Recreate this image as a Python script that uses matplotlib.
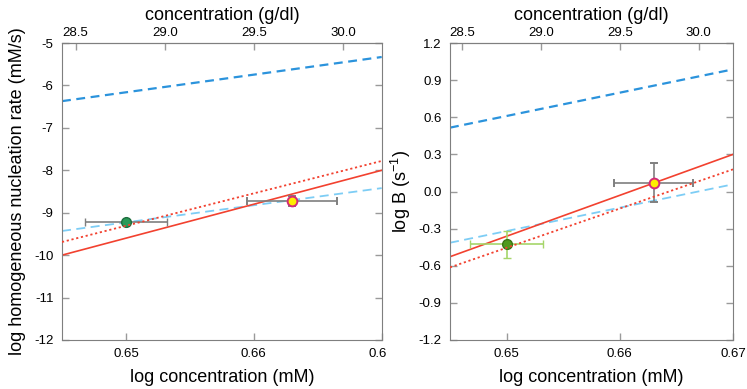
import matplotlib
matplotlib.use("Agg")
import matplotlib.pyplot as plt
from matplotlib.patches import Rectangle

plt.rcParams["font.family"] = ["Liberation Sans", "DejaVu Sans"]
plt.rcParams["axes.unicode_minus"] = False
plt.rcParams["mathtext.default"] = "regular"

# x range (log concentration, mM) shared by both panels
x_ends = [0.645, 0.67]

# left panel: log homogeneous nucleation rate
rate_dark_dash = [-6.37, -5.33]
rate_red_solid = [-10.0, -8.0]
rate_red_dot = [-9.69, -7.78]
rate_light_dash = [-9.43, -8.42]
rate_green = (0.65, -9.23, 0.0032, 0.06)      # x, y, xerr, yerr
rate_yellow = (0.6630, -8.72, 0.0035, 0.12)

# right panel: log B
b_dark_dash = [0.516, 0.987]
b_red_solid = [-0.527, 0.30]
b_red_dot = [-0.613, 0.179]
b_light_dash = [-0.414, 0.058]
b_green = (0.65, -0.427, 0.0032, 0.11)
b_yellow = (0.6630, 0.071, 0.0035, 0.158)

gdl_ticks = [28.5, 29.0, 29.5, 30.0]
b_ticks = [-1.2, -0.9, -0.6, -0.3, 0.0, 0.3, 0.6, 0.9, 1.2]


def to_log(g):
    return 0.66 + (g - 29.5) * 0.01394


def to_gdl(x):
    return 29.5 + (x - 0.66) / 0.01394


DARK_BLUE = "#2b93dc"
LIGHT_BLUE = "#7dcdf5"
RED = "#f2412f"
GRID = "#7f7f7f"


def draw_panel(ax, dark, solid, dot, light, green, yellow, green_col, green_edge, green_err):
    ax.plot(x_ends, dark, color=DARK_BLUE, ls=(0, (4, 2.5)), lw=1.6, zorder=2)
    ax.plot(x_ends, light, color=LIGHT_BLUE, ls=(0, (5, 3)), lw=1.3, zorder=2)
    ax.plot(x_ends, solid, color=RED, ls="-", lw=1.2, zorder=2)
    ax.errorbar(green[0], green[1], xerr=green[2], yerr=green[3], fmt="o", ms=7,
                mfc=green_col, mec=green_edge, mew=1, ecolor=green_err, elinewidth=1.2,
                capsize=3, zorder=3)
    ax.errorbar(yellow[0], yellow[1], xerr=yellow[2], yerr=yellow[3], fmt="o", ms=7,
                mfc="#ffee00", mec="#d42a78", mew=1.4, ecolor=GRID, elinewidth=1.2,
                capsize=3, zorder=3)
    ax.plot(x_ends, dot, color=RED, ls=(0, (1.2, 1.5)), lw=1.3, zorder=4)
    ax.set_xlim(x_ends)
    for sp in ax.spines.values():
        sp.set_color(GRID)
    ax.tick_params(direction="in", top=False, right=True, length=5, width=1,
                   color="#9a9a9a", labelsize=9.5, pad=6)
    ax.set_xlabel("log concentration (mM)", fontsize=13, labelpad=6)
    top = ax.secondary_xaxis("top", functions=(to_gdl, to_log))
    top.set_xticks(gdl_ticks)
    top.set_xticklabels([f"{t:.1f}" for t in gdl_ticks])
    top.tick_params(direction="in", length=5, width=1, color="#9a9a9a", labelsize=9.5, pad=3)
    top.spines["top"].set_color(GRID)
    top.set_xlabel("concentration (g/dl)", fontsize=13, labelpad=5)


fig = plt.figure(figsize=(7.47, 3.89), dpi=100)

ax1 = fig.add_axes([62 / 747, 49 / 389, 319.7 / 747, 297 / 389])
draw_panel(ax1, rate_dark_dash, rate_red_solid, rate_red_dot, rate_light_dash,
           rate_green, rate_yellow, "#2a9a58", "#1d6e3e", GRID)
ax1.set_ylim(-12, -5)
ax1.set_yticks(range(-12, -4))
ax1.set_xticks([0.65, 0.66, 0.67])
ax1.set_xticklabels(["0.65", "0.66", "0.67"])
ax1.set_ylabel("log homogeneous nucleation rate (mM/s)", fontsize=13, labelpad=6)

# the left picture is cut off at its right edge
fig.patches.append(Rectangle((387 / 747, 0), 1, 1, transform=fig.transFigure,
                             facecolor="white", edgecolor="none", zorder=1))

ax2 = fig.add_axes([450 / 747, 49 / 389, 283 / 747, 297 / 389])
ax2.set_zorder(2)
draw_panel(ax2, b_dark_dash, b_red_solid, b_red_dot, b_light_dash,
           b_green, b_yellow, "#4f9a1c", "#3a7414", "#a6d66a")
ax2.set_ylim(-1.2, 1.2)
ax2.set_yticks(b_ticks)
ax2.set_yticklabels([f"{v:.1f}" for v in b_ticks])
ax2.set_xticks([0.65, 0.66, 0.67])
ax2.set_xticklabels(["0.65", "0.66", "0.67"])
ax2.set_ylabel("log B (s$^{-1}$)", fontsize=13, labelpad=4)

fig.savefig("out.png", dpi=100)
